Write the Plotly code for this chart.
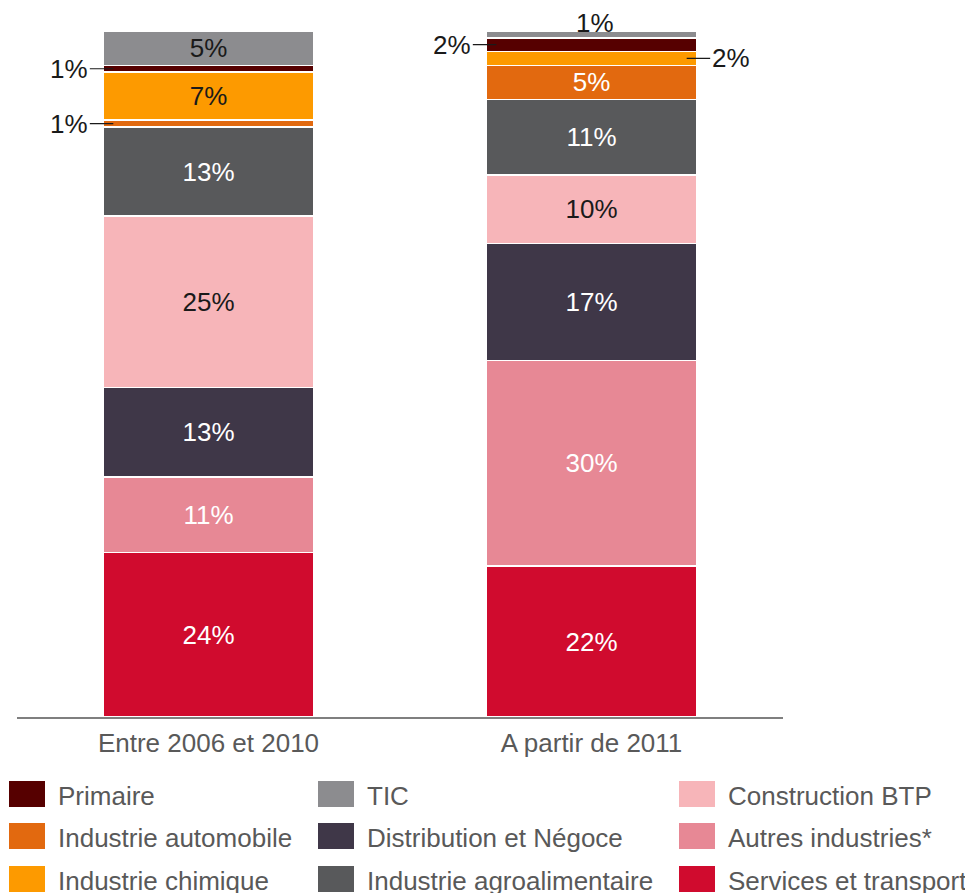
import plotly.graph_objects as go

# %% data
periods = ["Entre 2006 et 2010", "A partir de 2011"]
sectors = ["Services et transport", "Autres industries*", "Distribution et Négoce",
           "Construction BTP", "Industrie agroalimentaire", "Industrie automobile",
           "Industrie chimique", "Primaire", "TIC"]
shares_2006_2010 = [24, 11, 13, 25, 13, 1, 7, 1, 5]
shares_2011 = [22, 30, 17, 10, 11, 5, 2, 2, 1]
colors = ["#d00b2e", "#e78895", "#3f3748", "#f7b5b9", "#58595b",
          "#e2690f", "#fd9a00", "#560000", "#8c8c8f"]
dark_text = {"Construction BTP", "Industrie chimique", "TIC"}

# legend layout (rows x columns, as in the original)
legend_columns = [
    ["Primaire", "Industrie automobile", "Industrie chimique"],
    ["TIC", "Distribution et Négoce", "Industrie agroalimentaire"],
    ["Construction BTP", "Autres industries*", "Services et transport"],
]

# labels written outside the bars: (period index, sector, side)
outside = [(0, "Primaire", "left"), (0, "Industrie automobile", "left"),
           (1, "Primaire", "left"), (1, "Industrie chimique", "right"),
           (1, "TIC", "top")]

# %% geometry (page has an 8px body margin)
W, H = 973, 893
PAGE = 8
L, R, T, B = 9, 198, 23, 184
plot_w, plot_h = W - L - R, H - T - B
bargap = 0.449
half_bar = (1 - bargap) / 2
FONT = "Liberation Sans, Arial, sans-serif"
GREY_TXT = "#595959"


def px_x(px):
    return (px - PAGE - L) / plot_w


def px_y(py):
    return (H - B - (py - PAGE)) / plot_h


series = [shares_2006_2010, shares_2011]
outside_set = {(p, s) for p, s, _ in outside}

fig = go.Figure()
for k, (name, col) in enumerate(zip(sectors, colors)):
    vals = [series[0][k], series[1][k]]
    txt = ["" if (p, name) in outside_set else f"{v}%" for p, v in enumerate(vals)]
    fig.add_trace(go.Bar(
        x=periods, y=vals, name=name,
        marker=dict(color=col, line=dict(color="white", width=1.5)),
        text=txt, textposition="inside", insidetextanchor="middle",
        textangle=0, constraintext="none",
        textfont=dict(size=26, family=FONT,
                      color="#1a1a1a" if name in dark_text else "white"),
        showlegend=False, hoverinfo="x+name+y",
    ))

# outside labels with leader lines
for p, name, side in outside:
    k = sectors.index(name)
    vals = series[p]
    mid = sum(vals[:k]) + vals[k] / 2
    val = vals[k]
    if side == "top":
        fig.add_annotation(x=p, y=100, text=f"{val}%", showarrow=False,
                           yanchor="middle", yshift=8, xshift=3,
                           font=dict(size=26, family=FONT, color="#1a1a1a"))
        continue
    sign = -1 if side == "left" else 1
    fig.add_annotation(x=p + sign * (half_bar - 0.027), y=mid, text=f"{val}%",
                       showarrow=True, arrowhead=0, arrowwidth=1.2,
                       arrowcolor="#1a1a1a", ax=sign * 44, ay=0, standoff=0,
                       font=dict(size=26, family=FONT, color="#1a1a1a"))

# custom legend (big swatches like the original)
col_x = [9, 318, 679]
row_y = [794, 836, 879]
for c, names in enumerate(legend_columns):
    for r, name in enumerate(names):
        col = colors[sectors.index(name)]
        fig.add_shape(type="rect", xref="paper", yref="paper",
                      x0=px_x(col_x[c]), x1=px_x(col_x[c] + 36),
                      y0=px_y(row_y[r] - 13), y1=px_y(row_y[r] + 13),
                      fillcolor=col, line=dict(width=0))
        fig.add_annotation(xref="paper", yref="paper",
                           x=px_x(col_x[c] + 47), y=px_y(row_y[r] + 2),
                           text=name, showarrow=False,
                           xanchor="left", yanchor="middle",
                           font=dict(size=26, family=FONT, color=GREY_TXT))

fig.update_layout(
    barmode="stack", bargap=bargap,
    width=W, height=H,
    margin=dict(l=L, r=R, t=T, b=B),
    paper_bgcolor="white", plot_bgcolor="white",
    font=dict(family=FONT),
    showlegend=False,
)
fig.update_xaxes(type="category", range=[-0.5, 1.5], showline=True,
                 linecolor="#7f7f7f", linewidth=2, ticks="", showgrid=False,
                 ticklabelstandoff=2,
                 tickfont=dict(size=26, family=FONT, color=GREY_TXT))
fig.update_yaxes(range=[0, 100], visible=False, showgrid=False)

fig.write_html("out.html")
